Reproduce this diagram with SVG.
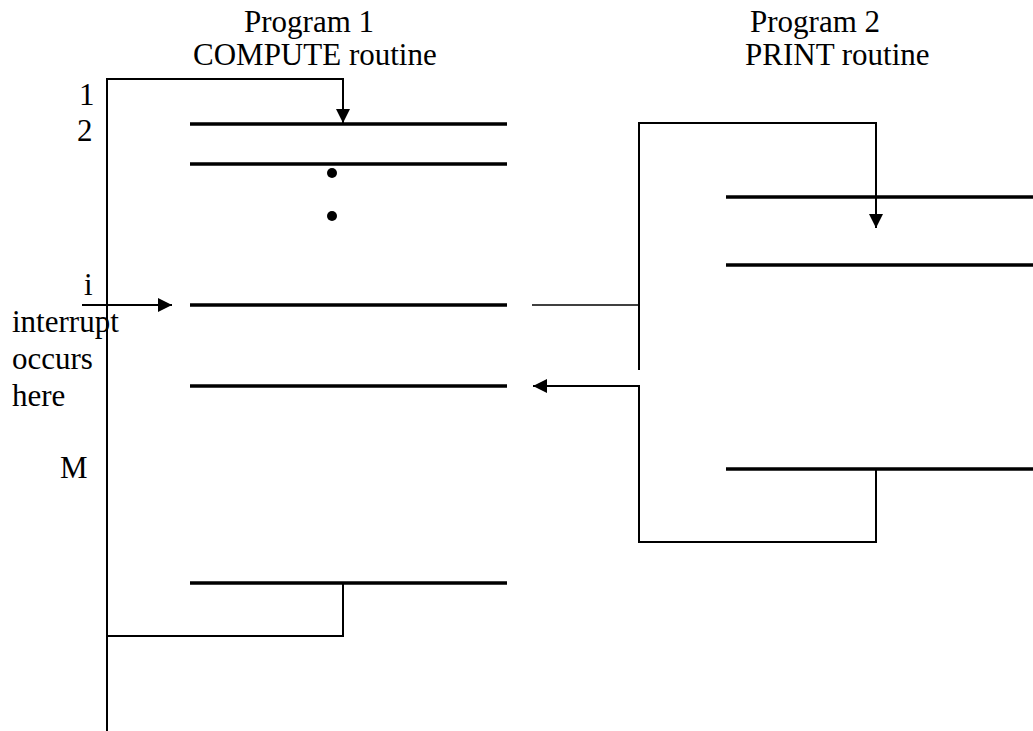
<svg xmlns="http://www.w3.org/2000/svg" width="1033" height="731" viewBox="0 0 1033 731">
<style>
text{font-family:"Liberation Serif","Times New Roman",serif;font-size:31px;fill:#000}
.bar{stroke:#000;stroke-width:3.5;fill:none}
.ln{stroke:#000;stroke-width:2;fill:none}
.thin{stroke:#000;stroke-width:1.5;fill:none}
</style>
<defs>
<marker id="ah" markerWidth="14" markerHeight="14" viewBox="0 0 14 14" refX="14" refY="7" orient="auto" markerUnits="userSpaceOnUse">
<path d="M0,0 L14,7 L0,14 z" fill="#000"/>
</marker>
</defs>
<rect width="1033" height="731" fill="#fff"/>
<g id="titles">
<text x="244" y="32">Program 1</text>
<text x="193" y="65">COMPUTE routine</text>
<text x="750" y="32">Program 2</text>
<text x="745" y="65">PRINT routine</text>
</g>
<g id="labels">
<text x="79" y="105">1</text>
<text x="77" y="141">2</text>
<text x="84" y="295">i</text>
<text x="12" y="332">interrupt</text>
<text x="12" y="369">occurs</text>
<text x="12" y="406">here</text>
<text x="60" y="478">M</text>
</g>
<g id="program1">
<line class="bar" x1="190" y1="124" x2="507" y2="124"/>
<line class="bar" x1="190" y1="164" x2="507" y2="164"/>
<circle cx="332" cy="173" r="5" fill="#000"/>
<circle cx="332" cy="216" r="5" fill="#000"/>
<line class="bar" x1="190" y1="305" x2="507" y2="305"/>
<line class="bar" x1="190" y1="386" x2="507" y2="386"/>
<line class="bar" x1="190" y1="583" x2="507" y2="583"/>
</g>
<g id="program2">
<line class="bar" x1="726" y1="197" x2="1033" y2="197"/>
<line class="bar" x1="726" y1="265" x2="1033" y2="265"/>
<line class="bar" x1="726" y1="469" x2="1033" y2="469"/>
</g>
<g id="connectors">
<polyline class="ln" points="107,731 107,79 343,79 343,123" marker-end="url(#ah)"/>
<line class="ln" x1="82" y1="305" x2="172" y2="305" marker-end="url(#ah)"/>
<polyline class="ln" points="343,583 343,636 107,636"/>
<line class="thin" x1="532" y1="305" x2="639" y2="305"/>
<polyline class="ln" points="639,370 639,123 876,123 876,228" marker-end="url(#ah)"/>
<polyline class="ln" points="876,469 876,542 639,542 639,386 533,386" marker-end="url(#ah)"/>
</g>
</svg>
